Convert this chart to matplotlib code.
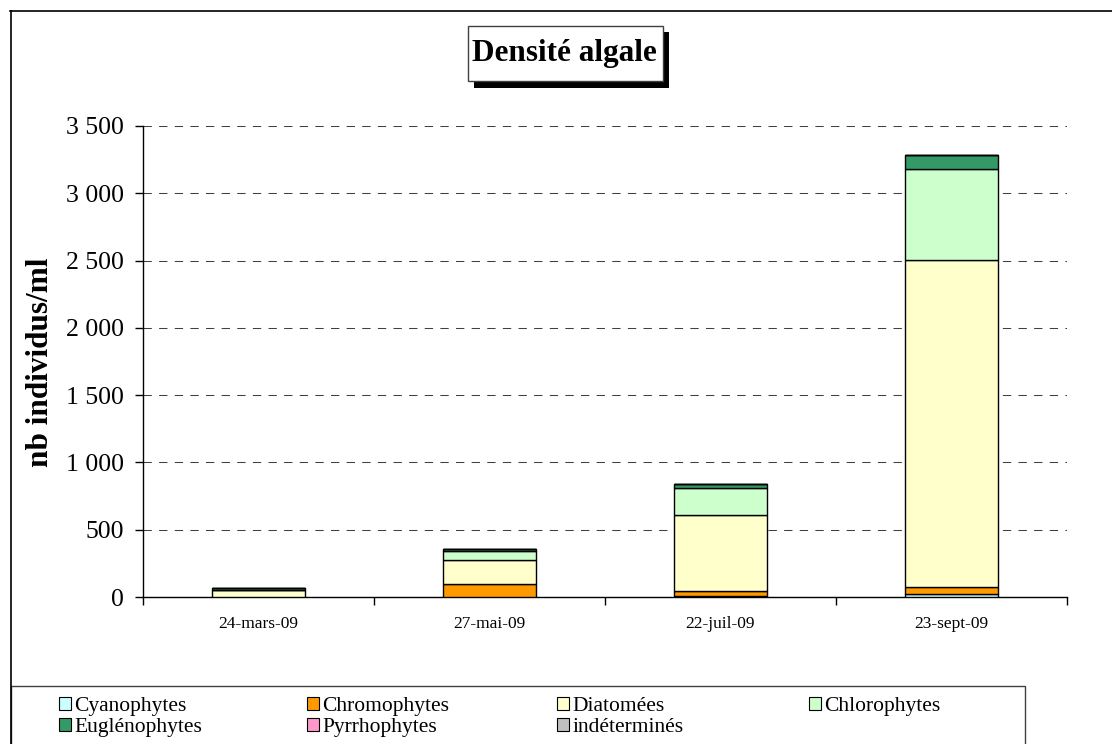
import matplotlib
matplotlib.use("Agg")
import matplotlib.pyplot as plt
from matplotlib.patches import Rectangle, Patch
from matplotlib.lines import Line2D

# Sampling dates and algal densities (individuals per ml) by group
dates = ["24-mars-09", "27-mai-09", "22-juil-09", "23-sept-09"]
groups = ["Cyanophytes", "Chromophytes", "Diatomées", "Chlorophytes",
          "Euglénophytes", "Pyrrhophytes", "indéterminés"]
cyanophytes = [0, 0, 10, 20]
chromophytes = [0, 100, 35, 52]
diatomees = [50, 175, 567, 2434]
chlorophytes = [0, 70, 196, 677]
euglenophytes = [15, 10, 35, 99]
pyrrhophytes = [0, 0, 0, 0]
indetermines = [0, 0, 0, 0]
series = [cyanophytes, chromophytes, diatomees, chlorophytes,
          euglenophytes, pyrrhophytes, indetermines]
colors = ["#CCFFFF", "#FF9900", "#FFFFCC", "#CCFFCC",
          "#339966", "#FF99CC", "#C0C0C0"]
yticks = [0, 500, 1000, 1500, 2000, 2500, 3000, 3500]
ytick_labels = ["0", "500", "1 000", "1 500", "2 000", "2 500", "3 000", "3 500"]

plt.rcParams["font.family"] = ["Liberation Serif", "DejaVu Serif"]

W, H = 1112, 744
fig = plt.figure(figsize=(W / 100, H / 100), dpi=100)
fig.patch.set_facecolor("white")


def fx(px):
    return px / W


def fy(py):
    return 1 - py / H


# Plot area
ax = fig.add_axes([fx(143), fy(597), fx(1067) - fx(143), fy(126) - fy(597)])
x = list(range(len(dates)))
bottom = [0] * len(dates)
for vals, col in zip(series, colors):
    ax.bar(x, vals, width=0.4, bottom=bottom, color=col,
           edgecolor="black", linewidth=1.0, zorder=3)
    bottom = [b + v for b, v in zip(bottom, vals)]

ax.set_xlim(-0.5, len(dates) - 0.5)
ax.set_ylim(0, 3500)
ax.set_yticks(yticks)
ax.set_yticklabels(ytick_labels, fontsize=18.5)
ax.set_xticks(x)
ax.set_xticklabels(dates, fontsize=12.5)
ax.tick_params(axis="x", length=0, pad=14)
ax.set_xticks([i - 0.5 for i in range(len(dates) + 1)], minor=True)
ax.tick_params(axis="x", which="minor", length=5.5, width=1, direction="out")
ax.tick_params(axis="y", length=6, width=1, direction="out", pad=8)
for s in ("top", "right"):
    ax.spines[s].set_visible(False)
for s in ("left", "bottom"):
    ax.spines[s].set_linewidth(1.0)
ax.yaxis.grid(True, color="#404040", linewidth=0.75, linestyle=(0, (8, 7)), zorder=1)
ax.set_axisbelow(True)

fig.text(fx(41), fy(362), "nb individus/ml", rotation=90, ha="center",
         va="center", fontsize=22.5, fontweight="bold")

# Title with drop shadow
fig.add_artist(Rectangle((fx(474), fy(88)), fx(669) - fx(474), fy(32) - fy(88),
                         transform=fig.transFigure, facecolor="black",
                         edgecolor="none"))
fig.add_artist(Rectangle((fx(468), fy(81)), fx(663) - fx(468), fy(26) - fy(81),
                         transform=fig.transFigure, facecolor="white",
                         edgecolor="#404040", linewidth=1))
fig.text(fx(564.5), fy(54), "Densité algale", ha="center", va="center",
         fontsize=22.5, fontweight="bold")

# Chart border
fig.add_artist(Line2D([fx(10), 1], [fy(10.5), fy(10.5)], transform=fig.transFigure,
                      color="black", linewidth=1.2))
fig.add_artist(Line2D([fx(10.5), fx(10.5)], [fy(10.5), 0], transform=fig.transFigure,
                      color="black", linewidth=1.2))

# Legend frame
fig.add_artist(Rectangle((fx(11), fy(770)), fx(1025) - fx(11), fy(686) - fy(770),
                         transform=fig.transFigure, facecolor="white",
                         edgecolor="#404040", linewidth=1))

handles = [Patch(facecolor=c, edgecolor="black", linewidth=0.8) for c in colors]
columns = [[0, 4], [1, 5], [2, 6], [3]]
col_x = [59, 307, 557, 809]
for idx, cx in zip(columns, col_x):
    fig.legend([handles[i] for i in idx], [groups[i] for i in idx],
               loc="upper left", bbox_to_anchor=(fx(cx), fy(697)),
               frameon=False, fontsize=15.5, handlelength=0.55,
               handleheight=0.55, handletextpad=0.15, labelspacing=0.07,
               borderpad=0, borderaxespad=0)

fig.savefig("out.png", dpi=100, facecolor="white")
